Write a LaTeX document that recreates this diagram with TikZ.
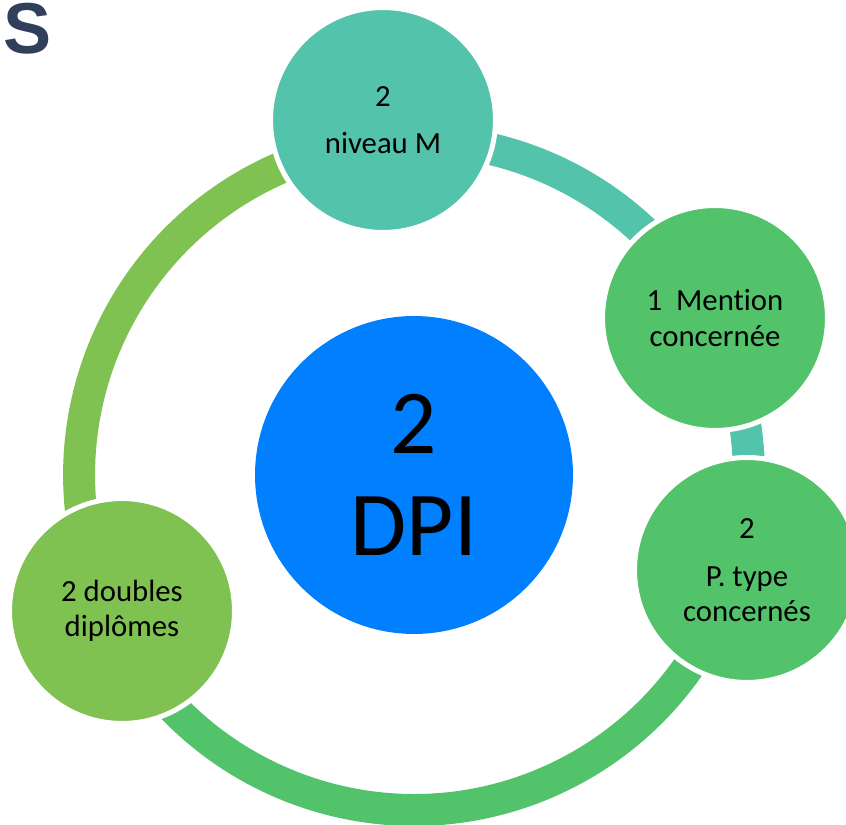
\documentclass[tikz,border=0pt]{standalone}
\usepackage{fontspec}
\setmainfont{Carlito}[Ligatures=NoCommon]
\newfontfamily\titlefont{Liberation Sans}
\definecolor{tealgreen}{RGB}{83,195,172}
\definecolor{midgreen}{RGB}{82,195,106}
\definecolor{leafgreen}{RGB}{127,194,82}
\definecolor{dpiblue}{RGB}{0,128,255}
\definecolor{navy}{RGB}{50,63,91}
\tikzstyle{satellite}=[circle, draw=white, line width=0.1cm, minimum size=4.5cm, inner sep=0pt,
        align=center, text=black, font=\fontsize{17.5}{20}\selectfont]
\tikzstyle{core}=[circle, fill=dpiblue, minimum size=6.36cm, inner sep=0pt,
        align=center, text=black, font=\fontsize{52}{58}\selectfont]
\tikzstyle{ringarc}=[line width=0.64cm]

\begin{document}
\begin{tikzpicture}[x=0.02cm, y=0.02cm]
    \useasboundingbox (0,0) rectangle (846,825);
    \coordinate (Hub) at (414,350);

    % ring segments, drawn below the circles
    \draw[ringarc, tealgreen] ([shift={(-16:6.7cm)}]Hub) arc[start angle=-16, end angle=95, radius=6.7cm];
    \draw[ringarc, leafgreen] ([shift={(95:6.7cm)}]Hub) arc[start angle=95, end angle=205, radius=6.7cm];
    \draw[ringarc, midgreen] ([shift={(205:6.7cm)}]Hub) arc[start angle=205, end angle=344, radius=6.7cm];

    \node (NiveauM) [satellite, fill=tealgreen] at (383,705) {2\\[7pt]niveau M};
    \node (Mention) [satellite, fill=midgreen] at (715,507) {1\ \ Mention\\concernée};
    \node (PType) [satellite, fill=midgreen] at (747,255) {2\\[7pt]P. type\\concernés};
    \node (Doubles) [satellite, fill=leafgreen] at (122,214) {2 doubles\\diplômes};

    \node (DPI) [core] at (Hub) {2\\DPI};

    \node (Title) [anchor=base west, inner sep=0pt, text=navy,
        font=\titlefont\bfseries\fontsize{41}{41}\selectfont] at (3,771) {S};
\end{tikzpicture}
\end{document}
